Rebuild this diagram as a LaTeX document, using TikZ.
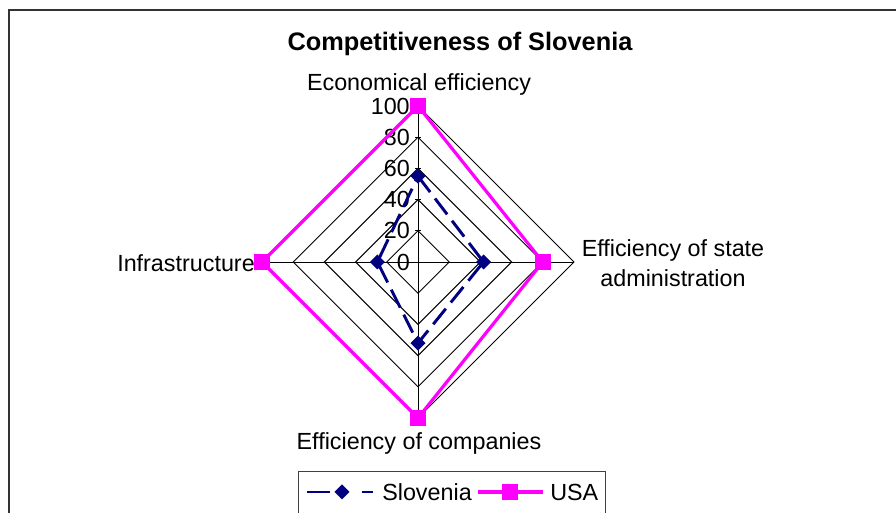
\documentclass[tikz,border=0pt]{standalone}
\usepackage{fontspec}
\setmainfont{Liberation Sans}
\usepackage{tikz}

\definecolor{slonavy}{HTML}{000080}
\definecolor{usamag}{HTML}{FF00FF}

\begin{document}
\begin{tikzpicture}[x=0.75pt,y=0.75pt,
		lbl/.style={font=\fontsize{17.5}{22.5}\selectfont, inner sep=0pt},
		gridline/.style={black, line width=0.7pt},
		slo/.style={slonavy, line width=2.2pt, dash pattern=on 15pt off 6pt},
		usa/.style={usamag, line width=2.4pt}]
		\useasboundingbox (-418,-251) rectangle (478,262);
		
		% frame
		\draw[black!80, line width=1.5pt] (-409,-260) -- (-409,252) -- (490,252);
		
		% title
		\node[font=\bfseries\fontsize{19}{22}\selectfont, inner sep=0pt] (title) at (42,218) {Competitiveness of Slovenia};
		
		% grid
		\foreach \v [evaluate=\v as \r using \v*1.56] in {20,40,...,100}
			\draw[gridline] (90:\r) -- (0:\r) -- (-90:\r) -- (180:\r) -- cycle;
		\foreach \a in {90,0,-90,180}
			\draw[gridline] (0,0) -- (\a:156);
		% ticks on value axis
		\foreach \v in {20,40,...,100}
			\draw[gridline] (-3,{\v*1.56}) -- (3,{\v*1.56});
		\foreach \v in {0,20,...,100}
			\node[lbl, anchor=east] (tick\v) at (-8,{\v*1.56}) {\v};
		
		% axis labels
		\node[lbl] (ecoeff) at (1,178) {Economical efficiency};
		\node[lbl, align=center] (stateff) at (255,-1) {Efficiency of state\\administration};
		\node[lbl] (compeff) at (1,-181) {Efficiency of companies};
		\node[lbl, anchor=east] (infra) at (-163,-1) {Infrastructure};
		
		% Slovenia
		\coordinate (s1) at (90:{55*1.56});
		\coordinate (s2) at (0:{42*1.56});
		\coordinate (s3) at (-90:{52*1.56});
		\coordinate (s4) at (180:{26*1.56});
		\draw[slo] (s1) -- (s2) -- (s3) -- (s4) -- cycle;
		\foreach \p in {s1,s2,s3,s4}
			\fill[slonavy] (\p) +(0,7.5) -- +(7.5,0) -- +(0,-7.5) -- +(-7.5,0) -- cycle;
		
		% USA
		\coordinate (u1) at (90:{100*1.56});
		\coordinate (u2) at (0:{80*1.56});
		\coordinate (u3) at (-90:{100*1.56});
		\coordinate (u4) at (180:{100*1.56});
		\draw[usa] (u1) -- (u2) -- (u3) -- (u4) -- cycle;
		\foreach \p in {u1,u2,u3,u4}
			\fill[usamag] (\p) +(-8,-8) rectangle +(8,8);
		
		% legend
		\draw[black!75, line width=0.75pt] (-119,-255) rectangle (187,-210);
		\coordinate (la) at (-111,-230);
		\coordinate (lb) at (-45,-230);
		\draw[slo, dash pattern=on 17pt off 24pt] (la) -- (lb);
		\fill[slonavy] (-76,-230) +(0,7.5) -- +(7.5,0) -- +(0,-7.5) -- +(-7.5,0) -- cycle;
		\node[lbl, anchor=west] (legslo) at (-36,-230) {Slovenia};
		\coordinate (lc) at (60,-230);
		\coordinate (ld) at (125,-230);
		\draw[usa] (lc) -- (ld);
		\fill[usamag] (92,-230) +(-8,-8) rectangle +(8,8);
		\node[lbl, anchor=west] (legusa) at (132,-230) {USA};
	\end{tikzpicture}
\end{document}
